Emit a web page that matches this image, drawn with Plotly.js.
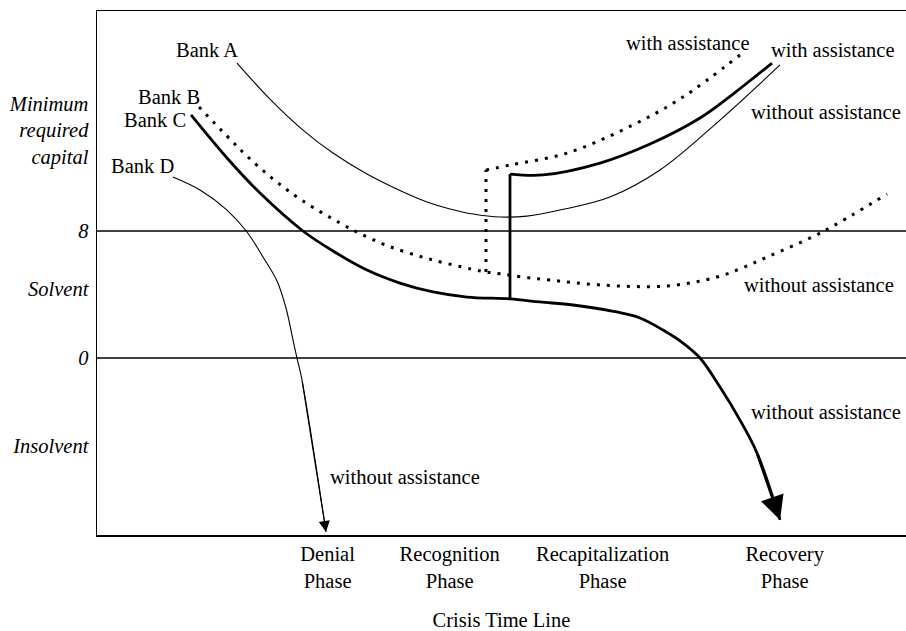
<!DOCTYPE html>
<html><head><meta charset="utf-8">
<script src="https://cdn.plot.ly/plotly-3.0.1.min.js"></script>
<style>html,body{margin:0;padding:0;background:#fff;}#chart{width:906px;height:631px;}</style>
</head><body><div id="chart"></div>
<script>
// Crisis time (0-100) vs capital level (8 = minimum required, 0 = insolvency)
const bankA_x = [17.31, 21.38, 25.46, 29.17, 33.37, 37.45, 40.79, 43.63, 46.48, 49.81, 53.15, 57.23, 63.41, 69.59, 77.01, 84.43];
const bankA_y = [18.58, 16.31, 14.36, 12.91, 11.59, 10.55, 9.83, 9.39, 9.07, 8.88, 8.94, 9.32, 10.14, 11.84, 14.99, 18.46];

const bankB_x = [12.61, 16.07, 18.54, 21.76, 25.46, 30.04, 32.39, 35.97, 41.04, 46.23, 48.08];
const bankB_y = [15.81, 13.98, 12.72, 11.28, 9.89, 8.50, 7.87, 7.06, 6.24, 5.61, 5.42];
const bankB_with_x = [48.08, 51.05, 58.10, 66.25, 72.43, 79.48];
const bankB_with_y = [11.84, 12.16, 12.91, 14.68, 16.44, 19.09];
const bankB_without_x = [50.06, 52.66, 56.00, 62.18, 70.46, 76.64, 79.73, 82.82, 89.37, 97.65];
const bankB_without_y = [5.29, 5.10, 4.91, 4.60, 4.54, 5.10, 5.67, 6.36, 7.87, 10.33];

const bankC_x = [11.62, 16.07, 20.15, 25.46, 29.17, 33.37, 37.45, 41.53, 45.74, 51.05];
const bankC_y = [15.31, 12.60, 10.39, 8.00, 6.74, 5.54, 4.72, 4.16, 3.84, 3.72];
const bankC_with_x = [51.05, 55.13, 62.18, 68.36, 74.54, 78.62, 83.44];
const bankC_with_y = [11.59, 11.53, 12.28, 13.48, 15.12, 16.63, 18.58];
const bankC_without_x = [54.76, 58.84, 63.66, 67.12, 69.96, 72.44, 74.54, 77.01, 79.48, 81.58, 84.43];
const bankC_without_y = [3.53, 3.34, 2.96, 2.52, 1.76, 0.94, 0.00, -1.83, -3.91, -5.98, -10.20];

const bankD_x = [9.39, 12.73, 16.07, 18.54, 20.52, 22.25, 23.36, 24.23, 24.72, 25.34, 28.31];
const bankD_y = [11.40, 10.58, 9.32, 7.94, 6.36, 4.85, 3.15, 1.13, 0.00, -1.39, -10.96];

const phaseLabels = ["Denial<br>Phase", "Recognition<br>Phase", "Recapitalization<br>Phase", "Recovery<br>Phase"];
const phaseX = [28.5, 43.6, 62.5, 85.0];
const levelLabels = ["<i>Minimum</i><br><i>required</i><br><i>capital</i>", "<i>8</i>", "<i>Solvent</i>", "<i>0</i>", "<i>Insolvent</i>"];
const levelY = [14.36, 8, 4.35, 0, -5.54];

const FONT = "Liberation Serif, Times New Roman, serif";
const last = a => a[a.length - 1];

function line(x, y, width, dash, shape) {
  return {x: x, y: y, type: "scatter", mode: "lines", hoverinfo: "skip", showlegend: false,
          line: {color: "#000", width: width, dash: dash || "solid", shape: shape || "spline", smoothing: 1}};
}
const DOT = "3px,7px";
const traces = [
  line(bankA_x, bankA_y, 1.1),
  line(bankB_x.concat(bankB_without_x), bankB_y.concat(bankB_without_y), 3, DOT),
  line([last(bankB_x), bankB_with_x[0]], [last(bankB_y), bankB_with_y[0]], 3, DOT, "linear"),
  line(bankB_with_x, bankB_with_y, 3, DOT),
  line(bankC_x.concat(bankC_without_x), bankC_y.concat(bankC_without_y), 2.8),
  line([last(bankC_x), bankC_with_x[0]], [last(bankC_y), bankC_with_y[0]], 2.8, null, "linear"),
  line(bankC_with_x, bankC_with_y, 2.8),
  line(bankD_x, bankD_y, 1.1)
];

function label(text, x, y) {
  return {text: text, x: x, y: y, xref: "x", yref: "y", showarrow: false,
          font: {family: FONT, size: 20.5, color: "#000"}};
}
const nC = bankC_without_x.length, nD = bankD_x.length;
const annotations = [
  label("Bank A", 13.6, 19.4),
  label("Bank B", 8.9, 16.45),
  label("Bank C", 7.2, 15.0),
  label("Bank D", 5.6, 12.1),
  label("with assistance", 73.0, 19.85),
  label("with assistance", 91.0, 19.4),
  label("without assistance", 90.1, 15.5),
  label("without assistance", 89.2, 4.6),
  label("without assistance", 90.1, -3.4),
  label("without assistance", 38.1, -7.5),
  {x: bankC_without_x[nC - 1], y: bankC_without_y[nC - 1], ax: bankC_without_x[nC - 2], ay: bankC_without_y[nC - 2],
   xref: "x", yref: "y", axref: "x", ayref: "y",
   showarrow: true, arrowhead: 2, arrowsize: 1.7, arrowwidth: 2.8, arrowcolor: "#000", text: ""},
  {x: bankD_x[nD - 1], y: bankD_y[nD - 1], ax: bankD_x[nD - 2], ay: bankD_y[nD - 2],
   xref: "x", yref: "y", axref: "x", ayref: "y",
   showarrow: true, arrowhead: 2, arrowsize: 2, arrowwidth: 1.1, arrowcolor: "#000", text: ""}
];

const layout = {
  width: 906, height: 631,
  margin: {l: 97, r: 0, t: 11, b: 96},
  paper_bgcolor: "#fff", plot_bgcolor: "#fff",
  font: {family: FONT, size: 20.5, color: "#000"},
  showlegend: false,
  xaxis: {range: [0, 100], showgrid: false, zeroline: false, showline: true, mirror: true,
          linecolor: "#000", linewidth: 1.5, tickmode: "array", tickvals: phaseX, ticktext: phaseLabels,
          ticks: "", ticklabelstandoff: 0, fixedrange: true,
          title: {text: "Crisis Time Line", standoff: 27, font: {family: FONT, size: 20.5, color: "#000"}}},
  yaxis: {range: [-11.15, 21.86], showgrid: false, zeroline: false, showline: true, mirror: false,
          linecolor: "#000", linewidth: 1.5, tickmode: "array", tickvals: levelY, ticktext: levelLabels,
          ticks: "", ticklabelstandoff: 3, fixedrange: true},
  shapes: [
    {type: "line", xref: "paper", x0: 0, x1: 1, yref: "y", y0: 8, y1: 8, line: {color: "#000", width: 1.3}},
    {type: "line", xref: "paper", x0: 0, x1: 1, yref: "y", y0: 0, y1: 0, line: {color: "#000", width: 1.3}}
  ],
  annotations: annotations
};

Plotly.newPlot("chart", traces, layout, {staticPlot: true, displayModeBar: false});
</script>
</body></html>
